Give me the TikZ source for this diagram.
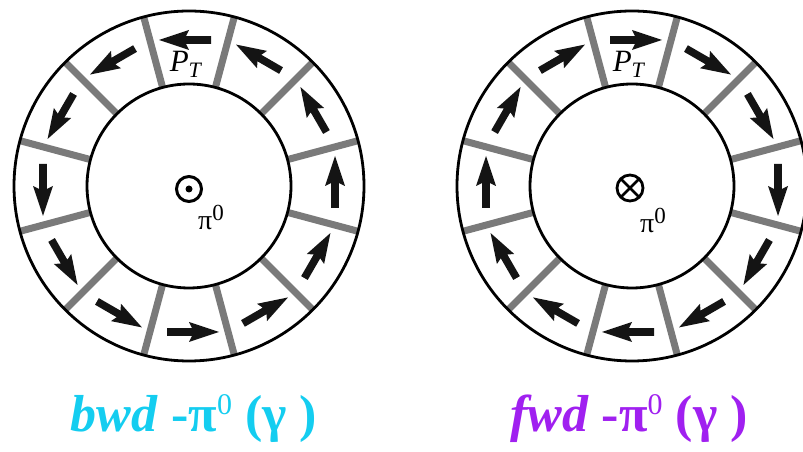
\documentclass[tikz,border=0pt]{standalone}
\usepackage{fontspec}
\setmainfont{Liberation Serif}
\definecolor{lblcyan}{RGB}{20,205,240}
\definecolor{lblpurple}{RGB}{160,32,240}
\definecolor{spokegray}{RGB}{122,122,122}
\begin{document}
\begin{tikzpicture}[x=1pt,y=1pt,
  spoke/.style={line width=7pt, draw=spokegray},
  ring/.style={line width=2.8pt, draw=black},
  arrowfill/.style={fill=black!92},
  ptlabel/.style={inner sep=0pt, font=\fontsize{31}{33}\selectfont},
  pilabel/.style={inner sep=0pt, font=\fontsize{28}{30}\selectfont},
  biglabel/.style={inner sep=0pt, anchor=base, font=\fontsize{52}{56}\selectfont\bfseries}]
\useasboundingbox (0,0) rectangle (803,452);
% ---------- left (bwd) ----------
\begin{scope}[shift={(189,266)}]
  \foreach \a in {15,45,...,345} \draw[spoke] (\a:102) -- (\a:175);
  \draw[ring] (0,0) circle[radius=175];
  \draw[ring] (0,0) circle[radius=102];
  \foreach \t in {0,30,...,330} {
    \begin{scope}[shift={(\t:146)}, rotate={\t+90}]
      \fill[arrowfill] (-22,-3.8) -- (3,-3.8) -- (0,-10) -- (30,0) -- (0,10) -- (3,3.8) -- (-22,3.8) -- cycle;
    \end{scope}
  }
  \node[ptlabel] (ptL) at (-3,122) {\textit{P}\raisebox{-6pt}{\fontsize{22}{24}\selectfont\textit{T}}};
  \draw[line width=3pt] (0,-3) circle[radius=12.5];
  \fill (0,-3) circle[radius=3.5];
  \node[pilabel] (piL) at (22,-31) {π\raisebox{9pt}{\fontsize{23}{24}\selectfont 0}};
\end{scope}
% ---------- right (fwd) ----------
\begin{scope}[shift={(632,266)}]
  \foreach \a in {15,45,...,345} \draw[spoke] (\a:102) -- (\a:175);
  \draw[ring] (0,0) circle[radius=175];
  \draw[ring] (0,0) circle[radius=102];
  \foreach \t in {0,30,...,330} {
    \begin{scope}[shift={(\t:146)}, rotate={\t-90}]
      \fill[arrowfill] (-22,-3.8) -- (3,-3.8) -- (0,-10) -- (30,0) -- (0,10) -- (3,3.8) -- (-22,3.8) -- cycle;
    \end{scope}
  }
  \node[ptlabel] (ptR) at (-3,122) {\textit{P}\raisebox{-6pt}{\fontsize{22}{24}\selectfont\textit{T}}};
  \draw[line width=2.8pt] (-2,-2) circle[radius=13];
  \draw[line width=2.8pt] (-2,-2) ++(45:13) -- ++(225:26);
  \draw[line width=2.8pt] (-2,-2) ++(135:13) -- ++(315:26);
  \node[pilabel] (piR) at (21,-34) {π\raisebox{9pt}{\fontsize{23}{24}\selectfont 0}};
\end{scope}
% ---------- captions ----------
\node[biglabel, text=lblcyan] (capL) at (194,20) {\textit{bwd} -π\raisebox{17pt}{\fontsize{30}{32}\selectfont\mdseries 0} (γ )};
\node[biglabel, text=lblpurple] (capR) at (629,20) {\textit{fwd} -π\raisebox{17pt}{\fontsize{30}{32}\selectfont\mdseries 0} (γ )};
\end{tikzpicture}
\end{document}
